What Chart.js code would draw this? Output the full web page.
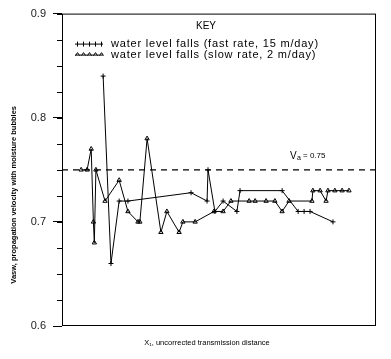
<!DOCTYPE html>
<html>
<head>
<meta charset="utf-8">
<script src="https://cdn.jsdelivr.net/npm/chart.js@4"></script>
<style>
  html, body { margin: 0; padding: 0; background: #fff; }
  #wrap { width: 391px; height: 359px; }
</style>
</head>
<body>
<div id="wrap"><canvas id="chart" width="391" height="359"></canvas></div>
<script>
// Data (x in relative distance units 0-100)
const fastX = [13.1, 15.6, 18.2, 21.0, 41.1, 46.2, 46.5, 48.7, 51.3, 55.7, 56.7, 70.1, 75.2, 77.1, 79.0, 86.3];
const fastY = [0.84, 0.66, 0.72, 0.72, 0.728, 0.72, 0.75, 0.71, 0.72, 0.71, 0.73, 0.73, 0.71, 0.71, 0.71, 0.70];

const slowX = [6.1, 8.0, 9.3, 10.0, 10.3, 10.8, 13.7, 18.2, 21.0, 24.2, 24.8, 27.1, 31.5, 33.4, 37.3, 38.5, 42.4, 48.4, 51.3, 53.8, 59.6, 61.5, 65.0, 67.8, 70.1, 72.3, 79.6, 79.9, 82.2, 84.1, 84.7, 86.9, 89.2, 91.4];
const slowY = [0.75, 0.75, 0.77, 0.70, 0.68, 0.75, 0.72, 0.74, 0.71, 0.70, 0.70, 0.78, 0.69, 0.71, 0.69, 0.70, 0.70, 0.71, 0.71, 0.72, 0.72, 0.72, 0.72, 0.72, 0.71, 0.72, 0.72, 0.73, 0.73, 0.72, 0.73, 0.73, 0.73, 0.73];

const VA = 0.75;
const X_MIN = 0, X_MAX = 100;
const Y_MIN = 0.6, Y_MAX = 0.9, Y_STEP = 0.1, Y_MINOR = 0.025;

const seriesLabels = ['water level falls (fast rate, 15 m/day)', 'water level falls (slow rate, 2 m/day)'];
const yTitle = 'Vasw, propagation velocity with moisture bubbles';
const xTitle = 'X\u2081, uncorrected transmission distance';

const toPts = (xs, ys) => xs.map((x, i) => ({ x: x, y: ys[i] }));

// extra drawing: frame, minor ticks, key, titles
const decor = {
    id: 'decor',
    afterDraw(chart) {
        const { ctx, chartArea: a, scales: { y } } = chart;
        ctx.save();
        ctx.strokeStyle = '#000';
        ctx.fillStyle = '#000';
        ctx.lineWidth = 1;
        ctx.strokeRect(a.left + 0.5, a.top + 0.5, a.width - 1, a.height - 1);

        // minor y ticks
        ctx.beginPath();
        for (let v = Y_MIN; v <= Y_MAX + 1e-9; v += Y_MINOR) {
            const py = Math.round(y.getPixelForValue(v)) + 0.5;
            ctx.moveTo(a.left - 5, py);
            ctx.lineTo(a.left, py);
        }
        ctx.stroke();

        // key
        ctx.font = '10px "Liberation Sans"';
        ctx.textAlign = 'center';
        ctx.textBaseline = 'middle';
        ctx.fillText('KEY', a.left + 144, a.top + 13);

        ctx.font = '11px "Liberation Sans"';
        ctx.letterSpacing = '0.8px';
        ctx.textAlign = 'left';
        const rows = [a.top + 30, a.top + 41];
        rows.forEach((ry, r) => {
            const x0 = a.left + 13, x1 = a.left + 41;
            ctx.beginPath();
            ctx.moveTo(x0, ry + 0.5);
            ctx.lineTo(x1, ry + 0.5);
            ctx.stroke();
            for (let k = 0; k < 5; k++) {
                const mx = Math.round(x0 + 2 + k * 6) + 0.5;
                ctx.beginPath();
                if (r === 0) {
                    ctx.moveTo(mx, ry - 2);
                    ctx.lineTo(mx, ry + 3);
                } else {
                    ctx.moveTo(mx - 2, ry + 1);
                    ctx.lineTo(mx, ry - 2);
                    ctx.lineTo(mx + 2, ry + 1);
                }
                ctx.stroke();
            }
            ctx.fillText(seriesLabels[r], a.left + 49, ry);
        });
        ctx.letterSpacing = '0px';

        // Va label
        const vy = y.getPixelForValue(VA);
        ctx.font = '10px "Liberation Sans"';
        ctx.fillText('V', a.left + 228, vy - 14);
        ctx.font = '7px "Liberation Sans"';
        ctx.fillText('a', a.left + 235, vy - 12);
        ctx.font = '8px "Liberation Sans"';
        ctx.fillText('= 0.75', a.left + 241, vy - 14);

        // axis titles
        ctx.font = '7.5px "Liberation Sans"';
        ctx.textAlign = 'center';
        ctx.fillText(xTitle, a.left + 145, a.bottom + 17);

        ctx.save();
        ctx.translate(14, (a.top + a.bottom) / 2 + 25);
        ctx.rotate(-Math.PI / 2);
        ctx.font = 'bold 7.5px "Liberation Sans"';
        ctx.fillText(yTitle, 0, 0);
        ctx.restore();

        ctx.restore();
    }
};

const ctx = document.getElementById('chart').getContext('2d');
new Chart(ctx, {
    type: 'scatter',
    data: {
        datasets: [{
            label: seriesLabels[0],
            data: toPts(fastX, fastY),
            showLine: true,
            borderColor: '#000',
            borderWidth: 1,
            pointStyle: 'cross',
            pointRadius: 2.5,
            pointBorderColor: '#000',
            pointBorderWidth: 1,
            tension: 0
        }, {
            label: seriesLabels[1],
            data: toPts(slowX, slowY),
            showLine: true,
            borderColor: '#000',
            borderWidth: 1,
            pointStyle: 'triangle',
            pointRadius: 2.5,
            pointBackgroundColor: 'rgba(0,0,0,0)',
            pointBorderColor: '#000',
            pointBorderWidth: 1,
            tension: 0
        }, {
            label: 'Va',
            data: [{ x: X_MIN, y: VA }, { x: X_MAX, y: VA }],
            showLine: true,
            borderColor: '#000',
            borderWidth: 1.2,
            borderDash: [6, 5],
            pointRadius: 0
        }]
    },
    options: {
        responsive: false,
        animation: false,
        layout: { padding: { left: 0, top: 12, right: 15, bottom: 0 } },
        plugins: { legend: { display: false }, tooltip: { enabled: false } },
        scales: {
            x: {
                type: 'linear',
                min: X_MIN, max: X_MAX,
                ticks: { display: false },
                grid: { display: false, drawTicks: false },
                border: { display: false },
                afterFit(scale) { scale.height = 33; }
            },
            y: {
                min: Y_MIN, max: Y_MAX,
                ticks: {
                    stepSize: Y_STEP,
                    padding: 7,
                    color: '#222',
                    font: { family: 'Liberation Sans', size: 11 },
                    callback: v => v.toFixed(1)
                },
                grid: { drawOnChartArea: false, tickLength: 9, color: '#000' },
                border: { display: false },
                afterFit(scale) { scale.width = 62; }
            }
        }
    },
    plugins: [decor]
});
</script>
</body>
</html>
